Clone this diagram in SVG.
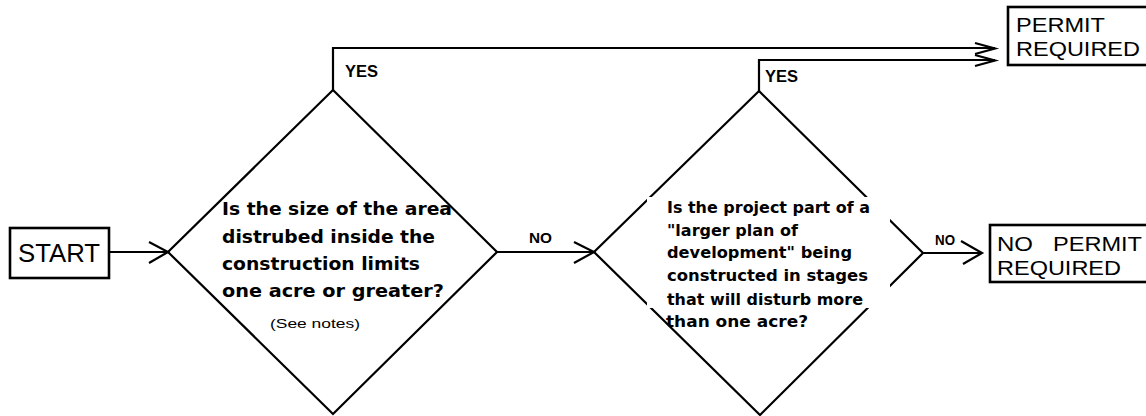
<svg xmlns="http://www.w3.org/2000/svg" width="1146" height="416" viewBox="0 0 1146 416">
<style>
.ln{fill:none;stroke:#000;stroke-width:2.2;stroke-linejoin:miter;stroke-linecap:butt}
.box{fill:#fff;stroke:#000;stroke-width:2.6}
.big{font-family:"Liberation Sans",Arial,sans-serif;font-size:21px;fill:#000}
.q1{font-family:"DejaVu Sans",sans-serif;font-weight:bold;font-size:17px;fill:#000}
.q2{font-family:"DejaVu Sans",sans-serif;font-weight:bold;font-size:15px;fill:#000}
.lbl{font-family:"Liberation Sans",Arial,sans-serif;font-weight:bold;fill:#000}
.note{font-family:"Liberation Sans",Arial,sans-serif;font-size:13px;fill:#000}
</style>
<rect width="1146" height="416" fill="#fff"/>
<g id="connectors">
  <path class="ln" d="M110,252 H168 M149,242 L168,252 L149,263"/>
  <path class="ln" d="M497,252 H594 M574,242 L594,252 L574,263"/>
  <path class="ln" d="M923,253 H982 M961,241 L982,253 L963,264"/>
  <path class="ln" d="M333,90 V48 H995 M975,43 L995,48.5 L975,54"/>
  <path class="ln" d="M759,91 V60 H995 M975,55 L995,60.5 L975,66"/>
  <text class="lbl" x="345" y="77" font-size="16" textLength="33" lengthAdjust="spacingAndGlyphs">YES</text>
  <text class="lbl" x="765" y="82" font-size="16" textLength="33" lengthAdjust="spacingAndGlyphs">YES</text>
  <text class="lbl" x="529" y="243" font-size="15" textLength="23" lengthAdjust="spacingAndGlyphs">NO</text>
  <text class="lbl" x="935" y="245" font-size="14" textLength="20" lengthAdjust="spacingAndGlyphs">NO</text>
</g>
<g id="start">
  <rect class="box" x="10" y="228" width="99" height="50"/>
  <text class="big" x="18" y="262" style="font-size:25px" textLength="82" lengthAdjust="spacingAndGlyphs">START</text>
</g>
<g id="decision1">
  <path class="ln" d="M333,90 L497,252 L333,414 L168,252 Z"/>
  <text class="q1" x="222" y="215" textLength="230" lengthAdjust="spacingAndGlyphs">Is the size of the area</text>
  <text class="q1" x="222" y="243" textLength="213" lengthAdjust="spacingAndGlyphs">distrubed inside the</text>
  <text class="q1" x="222" y="270" textLength="198" lengthAdjust="spacingAndGlyphs">construction limits</text>
  <text class="q1" x="222" y="297" textLength="222" lengthAdjust="spacingAndGlyphs">one acre or greater?</text>
  <text class="note" x="270" y="328" textLength="90" lengthAdjust="spacingAndGlyphs">(See notes)</text>
</g>
<g id="decision2">
  <path class="ln" d="M759,91 L923,253 L760,415 L594,252 Z"/>
  <rect x="647" y="197" width="243" height="111" fill="#fff"/>
  <text class="q2" x="667" y="213" textLength="203" lengthAdjust="spacingAndGlyphs">Is the project part of a</text>
  <text class="q2" x="667" y="235.5" textLength="131" lengthAdjust="spacingAndGlyphs">"larger plan of</text>
  <text class="q2" x="667" y="258" textLength="185" lengthAdjust="spacingAndGlyphs">development" being</text>
  <text class="q2" x="667" y="281" textLength="201" lengthAdjust="spacingAndGlyphs">constructed in stages</text>
  <text class="q2" x="667" y="305" textLength="196" lengthAdjust="spacingAndGlyphs">that will disturb more</text>
  <text class="q2" x="666" y="327" textLength="142" lengthAdjust="spacingAndGlyphs">than one acre?</text>
</g>
<g id="permit">
  <rect class="box" x="1008" y="7" width="150" height="58"/>
  <text class="big" x="1016" y="32" textLength="89" lengthAdjust="spacingAndGlyphs">PERMIT</text>
  <text class="big" x="1016" y="56" textLength="124" lengthAdjust="spacingAndGlyphs">REQUIRED</text>
</g>
<g id="nopermit">
  <rect class="box" x="990" y="225" width="170" height="57"/>
  <text class="big"><tspan x="997" y="251" textLength="36" lengthAdjust="spacingAndGlyphs">NO</tspan> <tspan x="1053" y="251" textLength="89" lengthAdjust="spacingAndGlyphs">PERMIT</tspan></text>
  <text class="big" x="997" y="275" textLength="124" lengthAdjust="spacingAndGlyphs">REQUIRED</text>
</g>
</svg>
